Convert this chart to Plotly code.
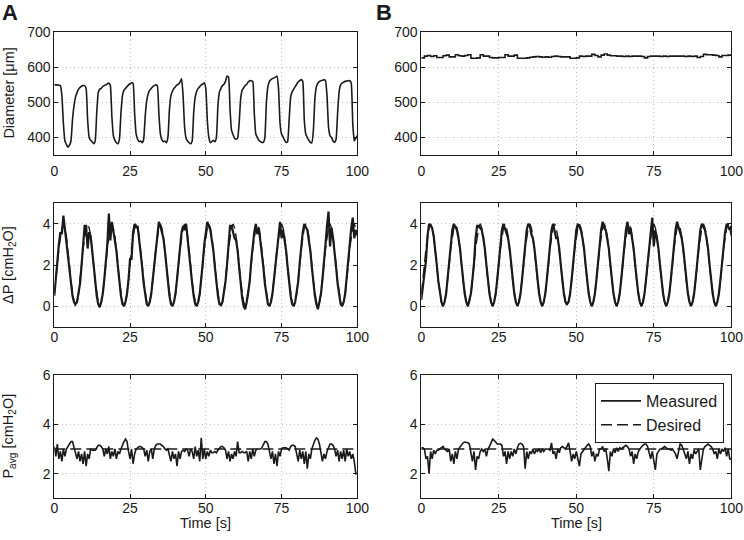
import plotly.graph_objects as go

# ---------------- data ----------------
x_ticks = [0, 25, 50, 75, 100]
x_tick_labels = ["0", "25", "50", "75", "100"]

# Diameter [um], panel A, sampled every 0.5 s
diam_a = [
    550, 550, 550, 549, 548, 520, 440, 390, 380, 372,
    378, 390, 450, 490, 515, 528, 538, 543, 546, 548,
    548, 540, 450, 400, 392, 388, 382, 390, 470, 528,
    538, 540, 546, 548, 550, 553, 555, 548, 460, 405,
    392, 385, 382, 395, 470, 520, 535, 540, 545, 550,
    553, 556, 555, 470, 410, 395, 388, 390, 385, 395,
    460, 505, 525, 535, 540, 545, 548, 550, 548, 470,
    410, 393, 388, 390, 385, 400, 480, 520, 532, 540,
    545, 550, 552, 558, 568, 520, 430, 398, 390, 385,
    382, 390, 470, 515, 532, 540, 545, 550, 552, 556,
    540, 450, 400, 385, 388, 392, 388, 400, 490, 530,
    540, 548, 552, 560, 575, 572, 480, 420, 408, 398,
    395, 398, 440, 510, 535, 542, 548, 552, 558, 562,
    562, 560, 470, 410, 400, 392, 388, 386, 386, 400,
    500, 545, 560, 565, 568, 570, 572, 575, 540, 440,
    410, 402, 392, 386, 388, 450, 515, 530, 538, 545,
    552, 558, 562, 565, 560, 450, 410, 400, 392, 386,
    385, 420, 510, 545, 555, 560, 562, 563, 565, 562,
    520, 430, 405, 400, 390, 386, 395, 470, 530, 550,
    555, 558, 560, 561, 562, 562, 555, 440, 390, 398,
    405,
]

# Diameter [um], panel B, sampled every 1 s
diam_b = [
    627, 632, 634, 631, 633, 628, 628, 633, 635, 630,
    630, 636, 633, 632, 634, 636, 626, 626, 627, 636,
    632, 632, 628, 627, 627, 628, 628, 636, 632, 632,
    635, 626, 626, 626, 627, 629, 630, 631, 630, 629,
    630, 629, 631, 632, 631, 630, 630, 630, 626, 626,
    627, 632, 631, 632, 632, 637, 634, 630, 635, 638,
    635, 633, 633, 632, 632, 631, 632, 631, 632, 632,
    632, 631, 627, 631, 632, 632, 632, 631, 632, 631,
    632, 632, 632, 632, 632, 631, 632, 631, 632, 628,
    631, 637, 636, 636, 635, 634, 630, 634, 634, 635,
    636,
]

# Desired pressure difference [cmH2O], every 0.5 s (same set-point in A and B)
dp_desired = [
    0.6, 1.2, 2.0, 2.8, 3.4, 3.8, 4.0, 3.8, 3.4, 2.8, 2.0, 1.2, 0.6, 0.2, 0.0, 0.2,
    0.6, 1.2, 2.0, 2.8, 3.4, 3.8, 4.0, 3.8, 3.4, 2.8, 2.0, 1.2, 0.6, 0.2, 0.0, 0.2,
    0.6, 1.2, 2.0, 2.8, 3.4, 3.8, 4.0, 3.8, 3.4, 2.8, 2.0, 1.2, 0.6, 0.2, 0.0, 0.2,
    0.6, 1.2, 2.0, 2.8, 3.4, 3.8, 4.0, 3.8, 3.4, 2.8, 2.0, 1.2, 0.6, 0.2, 0.0, 0.2,
    0.6, 1.2, 2.0, 2.8, 3.4, 3.8, 4.0, 3.8, 3.4, 2.8, 2.0, 1.2, 0.6, 0.2, 0.0, 0.2,
    0.6, 1.2, 2.0, 2.8, 3.4, 3.8, 4.0, 3.8, 3.4, 2.8, 2.0, 1.2, 0.6, 0.2, 0.0, 0.2,
    0.6, 1.2, 2.0, 2.8, 3.4, 3.8, 4.0, 3.8, 3.4, 2.8, 2.0, 1.2, 0.6, 0.2, 0.0, 0.2,
    0.6, 1.2, 2.0, 2.8, 3.4, 3.8, 4.0, 3.8, 3.4, 2.8, 2.0, 1.2, 0.6, 0.2, 0.0, 0.2,
    0.6, 1.2, 2.0, 2.8, 3.4, 3.8, 4.0, 3.8, 3.4, 2.8, 2.0, 1.2, 0.6, 0.2, 0.0, 0.2,
    0.6, 1.2, 2.0, 2.8, 3.4, 3.8, 4.0, 3.8, 3.4, 2.8, 2.0, 1.2, 0.6, 0.2, 0.0, 0.2,
    0.6, 1.2, 2.0, 2.8, 3.4, 3.8, 4.0, 3.8, 3.4, 2.8, 2.0, 1.2, 0.6, 0.2, 0.0, 0.2,
    0.6, 1.2, 2.0, 2.8, 3.4, 3.8, 4.0, 3.8, 3.4, 2.8, 2.0, 1.2, 0.6, 0.2, 0.0, 0.2,
    0.6, 1.2, 2.0, 2.8, 3.4, 3.8, 4.0, 3.8, 3.4,
]

# Measured pressure difference [cmH2O], panel A, every 0.5 s
dp_meas_a = [
    0.5, 1.4, 2.3, 3.0, 3.6, 3.5, 4.4, 3.7, 3.3, 2.6, 1.9, 1.1, 0.5, 0.2, 0.1, 0.2,
    0.6, 1.1, 2.0, 3.2, 3.9, 3.9, 2.8, 3.6, 3.4, 2.7, 1.9, 1.1, 0.5, 0.1, -0.05, 0.2,
    0.6, 1.3, 2.2, 3.0, 4.5, 3.2, 4.1, 3.7, 3.2, 2.7, 1.9, 1.1, 0.5, 0.1, 0.0, 0.2,
    0.6, 1.3, 2.3, 2.3, 3.6, 4.0, 3.8, 3.9, 3.3, 2.7, 1.9, 1.1, 0.5, 0.1, 0.0, 0.2,
    0.6, 1.3, 2.1, 2.9, 3.6, 4.1, 3.9, 3.6, 3.3, 2.7, 1.9, 1.1, 0.5, 0.1, 0.0, 0.2,
    0.6, 1.3, 2.1, 3.0, 3.6, 3.9, 3.7, 4.0, 3.2, 2.7, 1.9, 1.1, 0.5, 0.1, 0.0, 0.2,
    0.6, 1.2, 2.1, 3.0, 3.6, 4.1, 3.9, 3.7, 3.2, 2.7, 1.9, 1.1, 0.5, 0.1, 0.05, 0.2,
    0.6, 1.2, 2.0, 2.9, 3.9, 3.9, 3.6, 3.3, 3.2, 2.7, 1.9, 1.1, 0.4, 0.0, -0.15, 0.2,
    0.6, 1.2, 2.2, 3.1, 3.6, 4.0, 3.5, 3.8, 3.2, 2.7, 1.9, 1.1, 0.5, 0.1, 0.0, 0.2,
    0.6, 1.3, 2.2, 3.0, 3.6, 4.1, 3.3, 3.7, 3.2, 2.7, 1.9, 1.1, 0.5, 0.1, 0.0, 0.2,
    0.6, 1.2, 2.1, 3.1, 3.6, 4.0, 3.8, 3.7, 3.2, 2.7, 1.9, 1.1, 0.5, 0.1, -0.15, 0.2,
    0.6, 1.3, 2.4, 3.0, 3.9, 4.6, 2.9, 3.8, 3.3, 2.7, 1.9, 1.1, 0.5, 0.1, 0.0, 0.2,
    0.6, 1.3, 2.2, 3.0, 3.8, 4.3, 3.3, 3.7, 3.5,
]

# Measured pressure difference [cmH2O], panel B, every 0.5 s
dp_meas_b = [
    0.3, 0.9, 1.6, 2.2, 3.4, 4.0, 3.9, 3.8, 3.4, 2.8, 2.0, 1.2, 0.6, 0.2, 0.0, 0.2,
    0.6, 1.3, 2.1, 3.0, 3.7, 4.0, 3.8, 3.7, 3.3, 2.8, 2.0, 1.2, 0.6, 0.2, 0.0, 0.3,
    0.6, 1.3, 2.1, 3.3, 3.9, 3.9, 3.8, 3.7, 3.3, 2.8, 2.0, 1.2, 0.6, 0.2, 0.0, 0.2,
    0.6, 1.3, 2.1, 3.0, 3.7, 4.0, 3.8, 3.6, 3.3, 2.8, 2.0, 1.2, 0.6, 0.2, 0.0, 0.2,
    0.6, 1.3, 2.1, 3.0, 3.7, 4.0, 3.9, 3.5, 3.3, 2.8, 2.0, 1.2, 0.6, 0.2, 0.0, 0.2,
    0.6, 1.3, 2.1, 3.0, 3.7, 4.0, 3.6, 3.3, 3.3, 2.8, 2.0, 1.2, 0.6, 0.2, 0.1, 0.2,
    0.6, 1.3, 2.1, 3.0, 3.7, 4.0, 3.8, 3.7, 3.3, 2.8, 2.0, 1.2, 0.6, 0.2, 0.0, 0.2,
    0.6, 1.3, 2.1, 3.0, 3.7, 4.1, 3.8, 3.7, 3.3, 2.8, 2.0, 1.2, 0.6, 0.2, 0.0, 0.2,
    0.6, 1.3, 2.1, 3.0, 3.7, 4.1, 3.5, 3.8, 3.3, 2.8, 2.0, 1.2, 0.6, 0.2, 0.0, 0.2,
    0.6, 1.3, 2.1, 3.0, 3.7, 4.3, 2.9, 3.7, 3.3, 2.8, 2.0, 1.2, 0.6, 0.2, 0.0, 0.2,
    0.6, 1.3, 2.1, 3.0, 3.7, 4.1, 3.8, 3.6, 3.3, 2.8, 2.0, 1.2, 0.6, 0.2, 0.0, 0.2,
    0.6, 1.3, 2.1, 2.8, 3.7, 4.0, 3.8, 3.7, 3.3, 2.8, 2.0, 1.2, 0.6, 0.2, 0.0, 0.2,
    0.6, 1.3, 2.1, 3.0, 3.6, 4.0, 3.8, 3.7, 3.9,
]

# Average pressure [cmH2O], measured, panel A, every 0.5 s
pavg_meas_a = [
    3.1, 2.7, 3.2, 2.6, 2.9, 2.5, 3.0, 2.7, 3.0, 3.1,
    3.2, 3.3, 3.3, 3.1, 2.9, 2.6, 2.9, 2.5, 2.8, 2.4,
    2.9, 2.3, 2.8, 2.6, 3.0, 2.95, 2.95, 2.95, 3.05, 3.15,
    3.15, 3.1, 3.0, 2.7, 3.0, 2.8, 3.1, 2.6, 2.9, 2.7,
    3.0, 2.6, 2.9, 2.8, 3.0, 3.2, 3.3, 3.4, 3.3, 2.9,
    2.6, 3.0, 2.4, 2.8, 3.0, 3.05, 3.1, 3.1, 3.05, 3.0,
    2.7, 2.95, 2.5, 2.9, 3.0, 2.6, 3.0, 3.15, 3.2, 3.2,
    3.2, 3.15, 3.1, 3.0, 2.95, 3.0, 2.8, 2.5, 2.9, 2.6,
    2.8, 2.3, 2.9, 2.6, 2.9, 2.95, 2.9, 3.0, 2.95, 2.7,
    3.0, 2.9, 2.6, 3.1, 2.7, 2.95, 2.5, 3.45, 2.6, 3.0,
    2.6, 2.9, 2.7, 2.95, 2.85, 2.85, 2.9, 2.85, 2.95, 3.05,
    3.1, 3.1, 3.05, 2.95, 2.6, 2.9, 2.5, 2.8, 2.6, 2.9,
    2.7, 3.3, 2.85, 2.85, 2.9, 2.85, 2.85, 2.9, 2.5, 2.9,
    2.6, 3.0, 2.7, 2.95, 3.0, 3.0, 3.0, 3.05, 3.2, 3.3,
    3.3, 3.2, 2.9, 2.6, 2.9, 2.4, 2.8, 2.3, 2.9, 2.7,
    3.0, 3.05, 3.05, 3.05, 3.0, 2.95, 3.1, 3.15, 3.15, 3.1,
    2.8, 2.5, 2.95, 2.6, 2.9, 2.4, 2.9, 2.2, 2.8, 2.6,
    3.0, 3.2, 3.35, 3.45, 3.4, 3.2, 2.9, 2.5, 2.8, 2.6,
    2.9, 3.1, 3.2, 3.2, 3.15, 3.0, 2.7, 2.95, 2.5, 2.9,
    2.6, 2.95, 2.5, 3.0, 2.7, 2.9, 2.6, 2.8, 2.5, 2.0,
    2.0,
]

# Average pressure [cmH2O], measured, panel B, every 0.5 s
pavg_meas_b = [
    3.05, 3.05, 3.0, 2.6, 2.7, 2.0, 2.9, 2.6, 2.95, 2.8,
    2.95, 2.95, 3.0, 3.05, 3.1, 3.0, 2.95, 2.9, 3.0, 2.5,
    2.8, 2.4, 2.9, 2.6, 3.0, 3.1, 3.2, 3.25, 3.28, 3.28,
    3.25, 3.2, 2.8, 2.5, 2.9, 2.15, 2.7, 2.6, 2.9, 3.0,
    2.9, 3.0, 2.7, 3.0, 3.1, 3.3, 3.4, 3.35, 3.25, 3.2,
    3.2, 3.2, 3.15, 2.7, 2.9, 2.4, 2.9, 2.6, 2.9, 2.7,
    3.0, 2.8, 3.05, 3.2, 3.23, 3.2, 3.1, 2.2, 2.9, 2.6,
    2.9, 2.8, 3.0, 2.8, 2.95, 2.9, 3.0, 2.85, 3.0, 2.9,
    3.0, 3.0, 3.0, 2.95, 3.25, 2.8, 2.9, 2.6, 3.0, 2.85,
    3.05, 3.1, 3.05, 3.0, 3.1, 3.25, 2.9, 2.5, 2.8, 2.6,
    2.9, 2.6, 2.3, 2.8, 2.9, 3.0, 3.1, 3.15, 3.2, 3.1,
    2.7, 2.9, 2.5, 2.8, 2.7, 3.0, 3.0, 3.1, 2.9, 3.0,
    2.6, 2.1, 2.9, 2.7, 3.0, 2.85, 3.05, 2.9, 3.05, 3.0,
    3.05, 3.1, 3.15, 3.1, 3.0, 2.7, 2.9, 2.4, 2.8, 2.6,
    2.9, 3.0, 3.1, 3.15, 3.2, 3.2, 3.1, 2.8, 2.6, 2.9,
    2.5, 2.15, 2.8, 2.9, 3.0, 3.0, 3.05, 3.1, 3.05, 3.0,
    3.0, 2.95, 3.0, 2.9, 2.8, 2.6, 2.9, 3.2, 3.15, 3.0,
    2.8, 2.6, 2.9, 2.4, 2.8, 2.6, 2.95, 2.8, 2.9, 3.0,
    2.15, 2.6, 3.0, 3.1, 3.15, 3.2, 3.15, 3.1, 3.0, 2.8,
    2.9, 2.6, 3.0, 2.8, 3.0, 2.9, 3.05, 2.7, 3.0, 2.6,
    2.6,
]

# Desired average pressure [cmH2O] (constant set-point)
pavg_desired_t = [0, 100]
pavg_desired = [3.0, 3.0]

# ---------------- figure ----------------
FONT = "Liberation Sans, Arial, Helvetica, sans-serif"
INK = "#1a1a1a"
W, H = 744, 540


def px(p):
    """page x pixel -> paper fraction"""
    return p / W


def py(p):
    """page y pixel (from top) -> paper fraction"""
    return 1 - p / H


def tgrid(vals, step):
    return [round(step * i, 3) for i in range(len(vals))]


fig = go.Figure()

meas_line = dict(color=INK, width=1.6)
des_line = dict(color=INK, width=1.4, dash="11px,5px")

# Row 1: diameter
fig.add_trace(go.Scatter(x=tgrid(diam_a, 0.5), y=diam_a, mode="lines",
                         line=dict(meas_line, shape="spline", smoothing=0.4),
                         xaxis="x", yaxis="y", showlegend=False))
fig.add_trace(go.Scatter(x=tgrid(diam_b, 1.0), y=diam_b, mode="lines", line=dict(meas_line, shape="hv"),
                         xaxis="x2", yaxis="y2", showlegend=False))

# Row 2: delta P
fig.add_trace(go.Scatter(x=tgrid(dp_desired, 0.5), y=dp_desired, mode="lines", line=des_line,
                         xaxis="x3", yaxis="y3", showlegend=False))
fig.add_trace(go.Scatter(x=tgrid(dp_meas_a, 0.5), y=dp_meas_a, mode="lines", line=dict(color=INK, width=2.2),
                         xaxis="x3", yaxis="y3", showlegend=False))
fig.add_trace(go.Scatter(x=tgrid(dp_desired, 0.5), y=dp_desired, mode="lines", line=des_line,
                         xaxis="x4", yaxis="y4", showlegend=False))
fig.add_trace(go.Scatter(x=tgrid(dp_meas_b, 0.5), y=dp_meas_b, mode="lines", line=dict(color=INK, width=2.2),
                         xaxis="x4", yaxis="y4", showlegend=False))

# Row 3: P avg
fig.add_trace(go.Scatter(x=tgrid(pavg_meas_a, 0.5), y=pavg_meas_a, mode="lines", line=meas_line,
                         xaxis="x5", yaxis="y5", showlegend=False))
fig.add_trace(go.Scatter(x=pavg_desired_t, y=pavg_desired, mode="lines", line=des_line,
                         xaxis="x5", yaxis="y5", showlegend=False))
fig.add_trace(go.Scatter(x=tgrid(pavg_meas_b, 0.5), y=pavg_meas_b, mode="lines", line=meas_line,
                         xaxis="x6", yaxis="y6", name="Measured", showlegend=True))
fig.add_trace(go.Scatter(x=pavg_desired_t, y=pavg_desired, mode="lines", line=des_line,
                         xaxis="x6", yaxis="y6", name="Desired", showlegend=True))

# plot areas in page pixels
cols = [(54.3, 357.3), (421.3, 731.3)]
rows = [(32.3, 155.0), (203.3, 326.7), (375.0, 498.3)]
yranges = [[350, 700], [-1, 5], [1, 6]]
yticks = [[400, 500, 600, 700], [0, 2, 4], [2, 4, 6]]
x_standoff = [3, -3, -3]

axis_common = dict(
    showline=True, linecolor=INK, linewidth=1, mirror="ticks",
    ticks="inside", ticklen=4, tickcolor=INK, tickwidth=1,
    showgrid=True, gridcolor="#c4c4c4", gridwidth=1, griddash="1px,3px",
    zeroline=False, tickfont=dict(family=FONT, size=14, color=INK),
    fixedrange=True, automargin=False,
)

layout_axes = {}
n = 0
for r, (ytop, ybot) in enumerate(rows):
    for c, (xl, xr) in enumerate(cols):
        n += 1
        sx = "" if n == 1 else str(n)
        layout_axes["xaxis" + sx] = dict(
            axis_common, domain=[px(xl), px(xr)], range=[0, 100],
            tickvals=x_ticks, ticktext=x_tick_labels, anchor="y" + sx,
            ticklabelstandoff=x_standoff[r],
        )
        layout_axes["yaxis" + sx] = dict(
            axis_common, domain=[py(ybot), py(ytop)], range=yranges[r],
            tickvals=yticks[r], anchor="x" + sx,
        )

fig.update_layout(**layout_axes)

annotations = [
    dict(text="<b>A</b>", x=px(0), y=py(13), xanchor="left", yanchor="middle",
         font=dict(family=FONT, size=22, color=INK)),
    dict(text="<b>B</b>", x=px(374), y=py(13), xanchor="left", yanchor="middle",
         font=dict(family=FONT, size=22, color=INK)),
    dict(text="Diameter [μm]", x=px(9), y=py(93.6), textangle=-90,
         xanchor="center", yanchor="middle", font=dict(family=FONT, size=14.5, color=INK)),
    dict(text="ΔP [cmH<sub>2</sub>O]", x=px(9), y=py(265), textangle=-90,
         xanchor="center", yanchor="middle", font=dict(family=FONT, size=14.5, color=INK)),
    dict(text="P<sub>avg</sub> [cmH<sub>2</sub>O]", x=px(9), y=py(436.6), textangle=-90,
         xanchor="center", yanchor="middle", font=dict(family=FONT, size=14.5, color=INK)),
    dict(text="Time [s]", x=px(205.8), y=py(523), xanchor="center", yanchor="middle",
         font=dict(family=FONT, size=14.5, color=INK)),
    dict(text="Time [s]", x=px(576.3), y=py(523), xanchor="center", yanchor="middle",
         font=dict(family=FONT, size=14.5, color=INK)),
]
for a in annotations:
    a.update(xref="paper", yref="paper", showarrow=False)

fig.update_layout(
    width=W, height=H,
    margin=dict(l=0, r=0, t=0, b=0, autoexpand=False),
    paper_bgcolor="white", plot_bgcolor="white",
    font=dict(family=FONT, size=14, color=INK),
    annotations=annotations,
    legend=dict(
        x=px(724), y=py(383), xanchor="right", yanchor="top",
        bordercolor=INK, borderwidth=1, bgcolor="white",
        font=dict(family=FONT, size=16, color=INK),
        tracegroupgap=0, itemwidth=40,
    ),
)

# the page has a default 8px body margin; remove it so the figure fills the window
fig.write_html(
    "out.html",
    config={"displayModeBar": False},
    post_script="document.body.style.margin='0px'; document.body.style.overflow='hidden';",
)
